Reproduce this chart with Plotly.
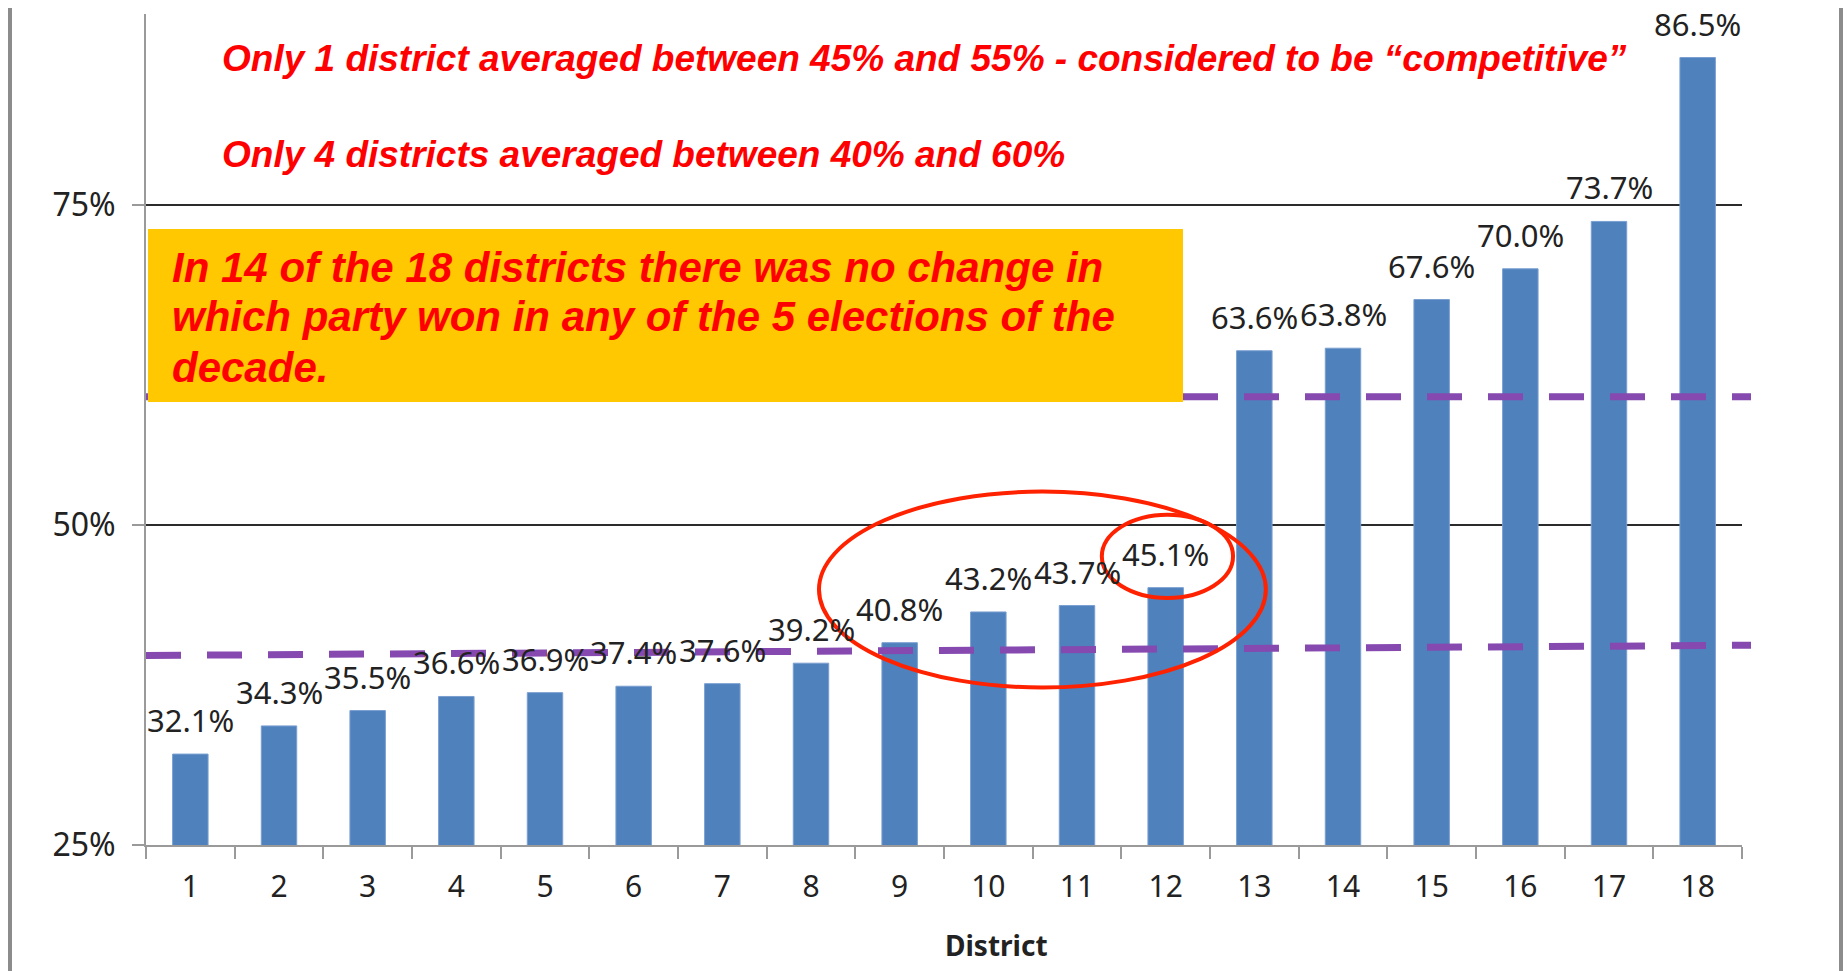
import plotly.graph_objects as go

# ---- data ----
districts = [str(i) for i in range(1, 19)]
avg_share = [32.1, 34.3, 35.5, 36.6, 36.9, 37.4, 37.6, 39.2, 40.8,
             43.2, 43.7, 45.1, 63.6, 63.8, 67.6, 70.0, 73.7, 86.5]
lower_band = [39.8, 40.6]   # dashed purple line (start, end)
upper_band = [60.0, 60.0]   # dashed purple line (start, end)
y_ticks = [25, 50, 75]
y_ticktext = ["25%", "50%", "75%"]

note1 = "Only 1 district averaged between 45% and 55% - considered to be \u201ccompetitive\u201d"
note2 = "Only 4 districts averaged between 40% and 60%"
box_lines = ["In 14 of the 18 districts there was no change in",
             "which party won in any of the 5 elections of the",
             "decade."]

# ---- geometry helpers (page pixels -> paper); body margin removed via post_script ----
W, H = 1848, 971
L, R, T, B = 146, 1742, 14, 845
def px(x):
    return (x - L) / (R - L)
def py(y):
    return (B - y) / (B - T)

BAR = "#4F81BD"
PURPLE = "#8549B0"
RED = "#FF0000"
ELL = "#FF2200"
TXT = "#222222"

fig = go.Figure()
fig.add_trace(go.Bar(x=districts, y=avg_share,
                     marker=dict(color=BAR, line=dict(color="#7a9fd0", width=1)),
                     hoverinfo="x+y"))

shapes = []
# dashed reference lines
for band in (lower_band, upper_band):
    shapes.append(dict(type="line", xref="x domain", yref="y", x0=0.0, x1=px(1751),
                       y0=band[0], y1=band[1],
                       line=dict(color=PURPLE, width=7, dash="35px,26px")))
# yellow box
shapes.append(dict(type="rect", xref="paper", yref="paper", x0=px(148), x1=px(1183),
                   y0=py(402), y1=py(229), fillcolor="#FFC800", line=dict(width=0)))
# ellipses
shapes.append(dict(type="circle", xref="x", yref="y", x0=7.09, x1=12.13, y0=37.3, y1=52.6,
                   line=dict(color=ELL, width=4)))
shapes.append(dict(type="circle", xref="x", yref="y", x0=10.28, x1=11.76, y0=44.3, y1=50.8,
                   line=dict(color=ELL, width=4)))
# outer frame lines
for xx in (10, 1841):
    shapes.append(dict(type="line", xref="paper", yref="paper", x0=px(xx), x1=px(xx),
                       y0=py(8), y1=py(971), line=dict(color="#8c8c8c", width=4)))

annotations = []
for k, v in enumerate(avg_share):
    annotations.append(dict(x=k, y=v, xref="x", yref="y", text=f"{v:.1f}%", showarrow=False,
                            yanchor="middle", yshift=34,
                            font=dict(family="Noto Sans", size=31, color=TXT)))
bi = dict(family="Liberation Sans, Arial", color=RED)
annotations.append(dict(x=px(220), y=py(59), xref="paper", yref="paper",
                        text=f"<b><i>{note1}</i></b>", showarrow=False,
                        xanchor="left", yanchor="middle", font=dict(size=37, **bi)))
annotations.append(dict(x=px(220), y=py(155), xref="paper", yref="paper",
                        text=f"<b><i>{note2}</i></b>", showarrow=False,
                        xanchor="left", yanchor="middle", font=dict(size=37, **bi)))
for k, line in enumerate(box_lines):
    annotations.append(dict(x=px(170), y=py(267 + 50 * k), xref="paper", yref="paper",
                            text=f"<b><i>{line}</i></b>", showarrow=False, xanchor="left",
                            yanchor="middle", font=dict(size=42, **bi)))
annotations.append(dict(x=px(996), y=py(945), xref="paper", yref="paper", text="<b>District</b>",
                        showarrow=False, xanchor="center", yanchor="middle",
                        font=dict(family="Noto Sans", size=28, color=TXT)))

fig.update_layout(
    width=W, height=H, autosize=False,
    margin=dict(l=L, r=W - R, t=T, b=H - B, pad=0),
    paper_bgcolor="white", plot_bgcolor="white",
    showlegend=False, bargap=0.6,
    shapes=shapes, annotations=annotations,
    xaxis=dict(type="category", tickson="boundaries", ticks="outside", ticklen=12,
               tickwidth=2, tickcolor="#9a9a9a", showline=True, linecolor="#9a9a9a", linewidth=2,
               showgrid=False, range=[-0.5, 17.5], ticklabelstandoff=14,
               tickfont=dict(family="Noto Sans", size=30, color=TXT)),
    yaxis=dict(range=[25, 89.9], tickvals=y_ticks, ticktext=y_ticktext, ticks="outside",
               ticklen=12, tickwidth=2, tickcolor="#9a9a9a", showline=True, linecolor="#9a9a9a",
               linewidth=2, showgrid=True, gridcolor="#2b2b2b", gridwidth=2, zeroline=False,
               ticklabelstandoff=10,
               tickfont=dict(family="Noto Sans", size=32, color=TXT)),
)

fig.write_html("out.html",
               config={"displayModeBar": False},
               post_script="document.body.style.margin='0';document.body.style.overflow='hidden';")
